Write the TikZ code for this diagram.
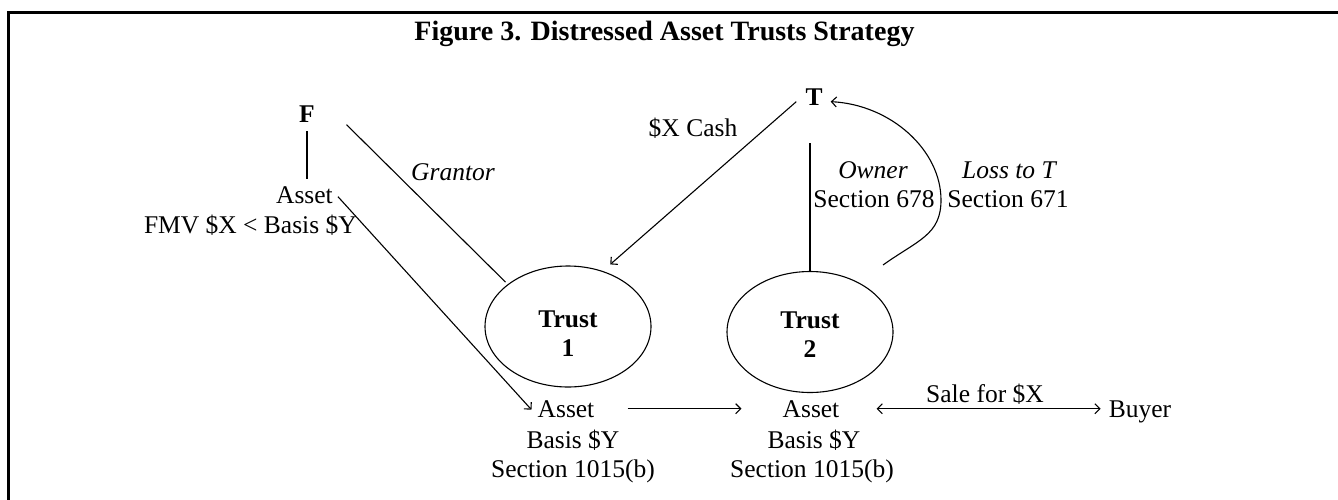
\documentclass[tikz,border=0pt]{standalone}
\usepackage{fontspec}
\setmainfont{Liberation Serif}
\usetikzlibrary{arrows.meta,shapes.geometric}
\newcommand{\bodyfs}{\fontsize{25.5}{29}\selectfont}
\newcommand{\titlefs}{\fontsize{28}{32}\selectfont}
\begin{document}
\begin{tikzpicture}[x=1pt,y=-1pt,
  txt/.style={inner sep=0pt, anchor=base, font=\bodyfs},
  bold/.style={txt, font=\bodyfs\bfseries},
  ital/.style={txt, font=\bodyfs\itshape},
  trustnode/.style={draw, ellipse, line width=1.1pt, minimum width=166pt, minimum height=121pt, inner sep=0pt, align=center, font=\bodyfs\bfseries},
  conn/.style={line width=1.1pt},
  arr/.style={conn, -{Straight Barb[length=5pt,width=10pt]}},
  darr/.style={conn, {Straight Barb[length=5pt,width=10pt]}-{Straight Barb[length=5pt,width=10pt]}},
]
\useasboundingbox (0,0) rectangle (1338,499);
\draw[line width=3pt] (8,501) -- (8,12.5) -- (1340,12.5);

\node[txt, font=\titlefs\bfseries] (title) at (664.5,40) {Figure 3. Distressed Asset Trusts Strategy};
\node[bold] (F) at (307,122) {F};
\node[txt, anchor=base east] (assetF) at (333,203) {Asset};
\node[txt, anchor=base east] (fmv) at (357,233) {FMV \$X < Basis \$Y};
\node[ital] (grantor) at (453,180) {Grantor};
\node[txt] (cash) at (693,136) {\$X Cash};
\node[bold] (T) at (814,105) {T};
\node[ital] (owner) at (873,178) {Owner};
\node[txt] (s678) at (874,207) {Section 678};
\node[ital] (loss) at (1009,178) {Loss to T};
\node[txt] (s671) at (1008,207) {Section 671};
\node[trustnode] (trust1) at (568,326.5) {\rule{0pt}{30pt}Trust\\1};
\node[trustnode] (trust2) at (810,332) {\rule{0pt}{21pt}Trust\\2};

\node[txt] (a1) at (566,417) {Asset};
\node[txt] (a1b) at (573,448) {Basis \$Y};
\node[txt] (a1c) at (573,477) {Section 1015(b)};
\node[txt] (a2) at (811,417) {Asset};
\node[txt] (a2b) at (814,448) {Basis \$Y};
\node[txt] (a2c) at (812,477) {Section 1015(b)};
\node[txt] (buyer) at (1140,417) {Buyer};
\node[txt] (sale) at (985,402) {Sale for \$X};

\draw[conn, shorten <=9pt, shorten >=6.5pt] (F.south) -- (F.south |- assetF.north);
\draw[conn, shorten >=3pt] ([shift={(31.5,11)}]F.east) -- (trust1.145);
\draw[arr] ([shift={(5,2)}]assetF.east) -- ([shift={(-6,1)}]a1.west);
\draw[arr, shorten >=10pt] ([shift={(-9,5)}]T.west) -- (trust1.58);
\draw[conn, shorten <=38pt] (T.south -| trust2.north) -- (trust2.north);
\draw[arr] ([shift={(73,-67)}]trust2.center) .. controls +(35,-25) and +(0,35) .. ([shift={(131,-132)}]trust2.center) .. controls +(0,-50) and +(60,3) .. ([shift={(8,5)}]T.east);
\draw[arr, shorten <=33pt, shorten >=41pt] (a1.east) -- (a2.west);
\draw[darr, shorten <=37pt, shorten >=8pt] (a2.east) -- (a2.east -| buyer.west);
\end{tikzpicture}
\end{document}
